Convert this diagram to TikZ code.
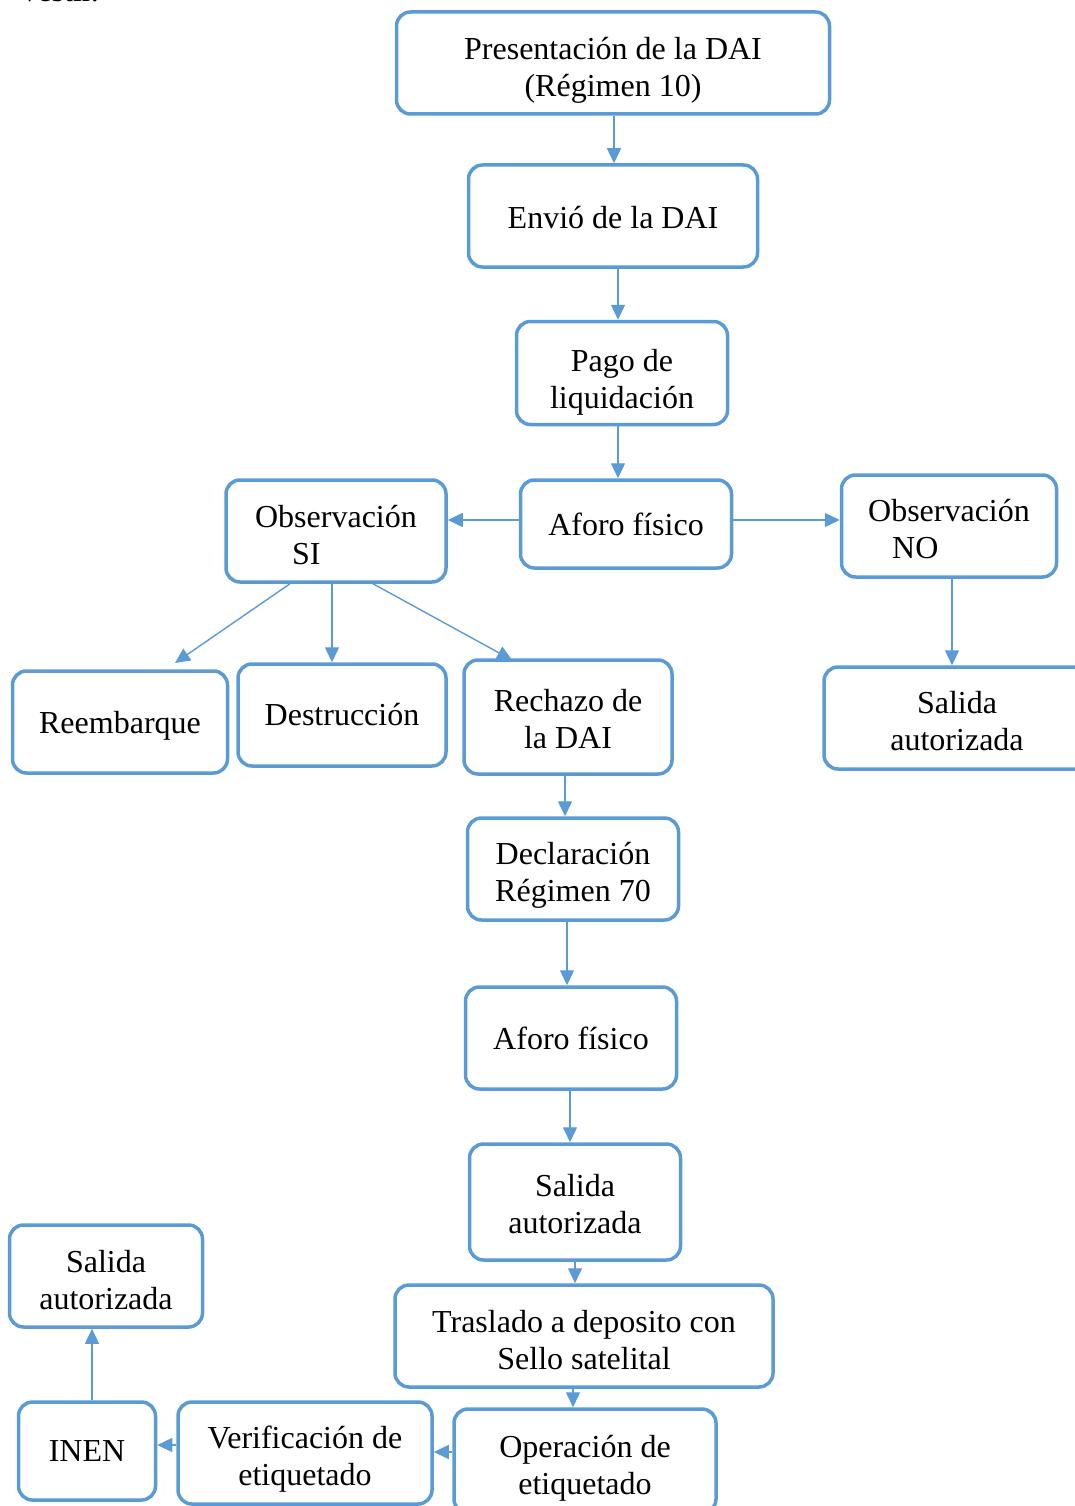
\documentclass[tikz,border=0pt]{standalone}
\usepackage{fontspec}
\setmainfont{Liberation Serif}
\usetikzlibrary{arrows.meta}
\definecolor{bl}{HTML}{5B9BD5}
\tikzset{
  box/.style={draw=bl, line width=3.5pt, rounded corners=14pt, align=center, inner sep=0pt,
    font=\fontsize{32}{37}\selectfont, fill=white},
  boxtwo/.style={box, text height=#1},
  arr/.style={draw=bl, line width=1.4pt, -{Triangle[length=15pt,width=14pt]}}
}
\begin{document}
\begin{tikzpicture}[x=1pt,y=-1pt]
\useasboundingbox (0,0) rectangle (1075,1506);
\clip (0,0) rectangle (1075,1506);
\node[font=\fontsize{32}{37}\selectfont, anchor=base west] (top) at (18,2) {vestir.};
\node[boxtwo=73pt, minimum width=433pt, minimum height=102pt] (n1) at (613,63) {Presentación de la DAI\\(Régimen 10)};
\node[boxtwo=26pt, minimum width=289pt, minimum height=102pt] (n2) at (613,216) {Envió de la DAI};
\node[boxtwo=77pt, minimum width=211pt, minimum height=103pt] (n3) at (622,373) {Pago de\\liquidación};
\node[box, minimum width=211pt, minimum height=88pt] (n4) at (626,524) {Aforo físico};
\node[boxtwo=67pt, minimum width=220pt, minimum height=102pt, align=left] (n5) at (336,531) {Observación\\\hspace*{37pt}SI};
\node[boxtwo=65pt, minimum width=215pt, minimum height=102pt, align=left] (n6) at (949,526) {Observación\\\hspace*{24pt}NO};
\node[boxtwo=29pt, minimum width=215pt, minimum height=102pt] (n7) at (120,722) {Reembarque};
\node[box, minimum width=208pt, minimum height=102pt] (n8) at (342,715) {Destrucción};
\node[boxtwo=63pt, minimum width=208pt, minimum height=114pt] (n9) at (568,717) {Rechazo de\\la DAI};
\node[boxtwo=65pt, minimum width=266pt, minimum height=102pt] (n10) at (957,718) {Salida\\autorizada};
\node[boxtwo=71pt, minimum width=211pt, minimum height=102pt] (n11) at (573,869) {Declaración\\Régimen 70};
\node[box, minimum width=211pt, minimum height=102pt] (n12) at (571,1038) {Aforo físico};
\node[boxtwo=63pt, minimum width=211pt, minimum height=116pt] (n13) at (575,1202) {Salida\\autorizada};
\node[boxtwo=67pt, minimum width=378pt, minimum height=102pt] (n14) at (584,1336) {Traslado a deposito con\\Sello satelital};
\node[boxtwo=73pt, minimum width=262pt, minimum height=104pt] (n15) at (585,1461) {Operación de\\etiquetado};
\node[boxtwo=71pt, minimum width=254pt, minimum height=102pt] (n16) at (305,1453) {Verificación de\\etiquetado};
\node[box, minimum width=137pt, minimum height=98pt] (n17) at (87,1451) {INEN};
\node[boxtwo=67pt, minimum width=193pt, minimum height=102pt] (n18) at (106,1276) {Salida\\autorizada};

\draw[arr] (n1.south -| 614,0) -- (n2.north -| 614,0);
\draw[arr] (n2.south -| 618,0) -- (n3.north -| 618,0);
\draw[arr] (n3.south -| 618,0) -- (n4.north -| 618,0);
\draw[arr] (n4.west |- 0,520) -- (n5.east |- 0,520);
\draw[arr] (n4.east |- 0,520) -- (n6.west |- 0,520);
\draw[arr] (n5.south -| 290,0) -- (175,663);
\draw[arr] (n5.south -| 332,0) -- (n8.north -| 332,0);
\draw[arr] (n5.south -| 373,0) -- (512,660);
\draw[arr] (n6.south -| 952,0) -- (n10.north -| 952,0);
\draw[arr] (n9.south -| 565,0) -- (n11.north -| 565,0);
\draw[arr] (n11.south -| 567,0) -- (n12.north -| 567,0);
\draw[arr] (n12.south -| 570,0) -- (n13.north -| 570,0);
\draw[arr] (n13.south -| 575,0) -- (n14.north -| 575,0);
\draw[arr] (n14.south -| 573,0) -- (n15.north -| 573,0);
\draw[arr] (n15.west |- 0,1452) -- (n16.east |- 0,1452);
\draw[arr] (n16.west |- 0,1445) -- (n17.east |- 0,1445);
\draw[arr] (n17.north -| 92,0) -- (n18.south -| 92,0);
\end{tikzpicture}
\end{document}
